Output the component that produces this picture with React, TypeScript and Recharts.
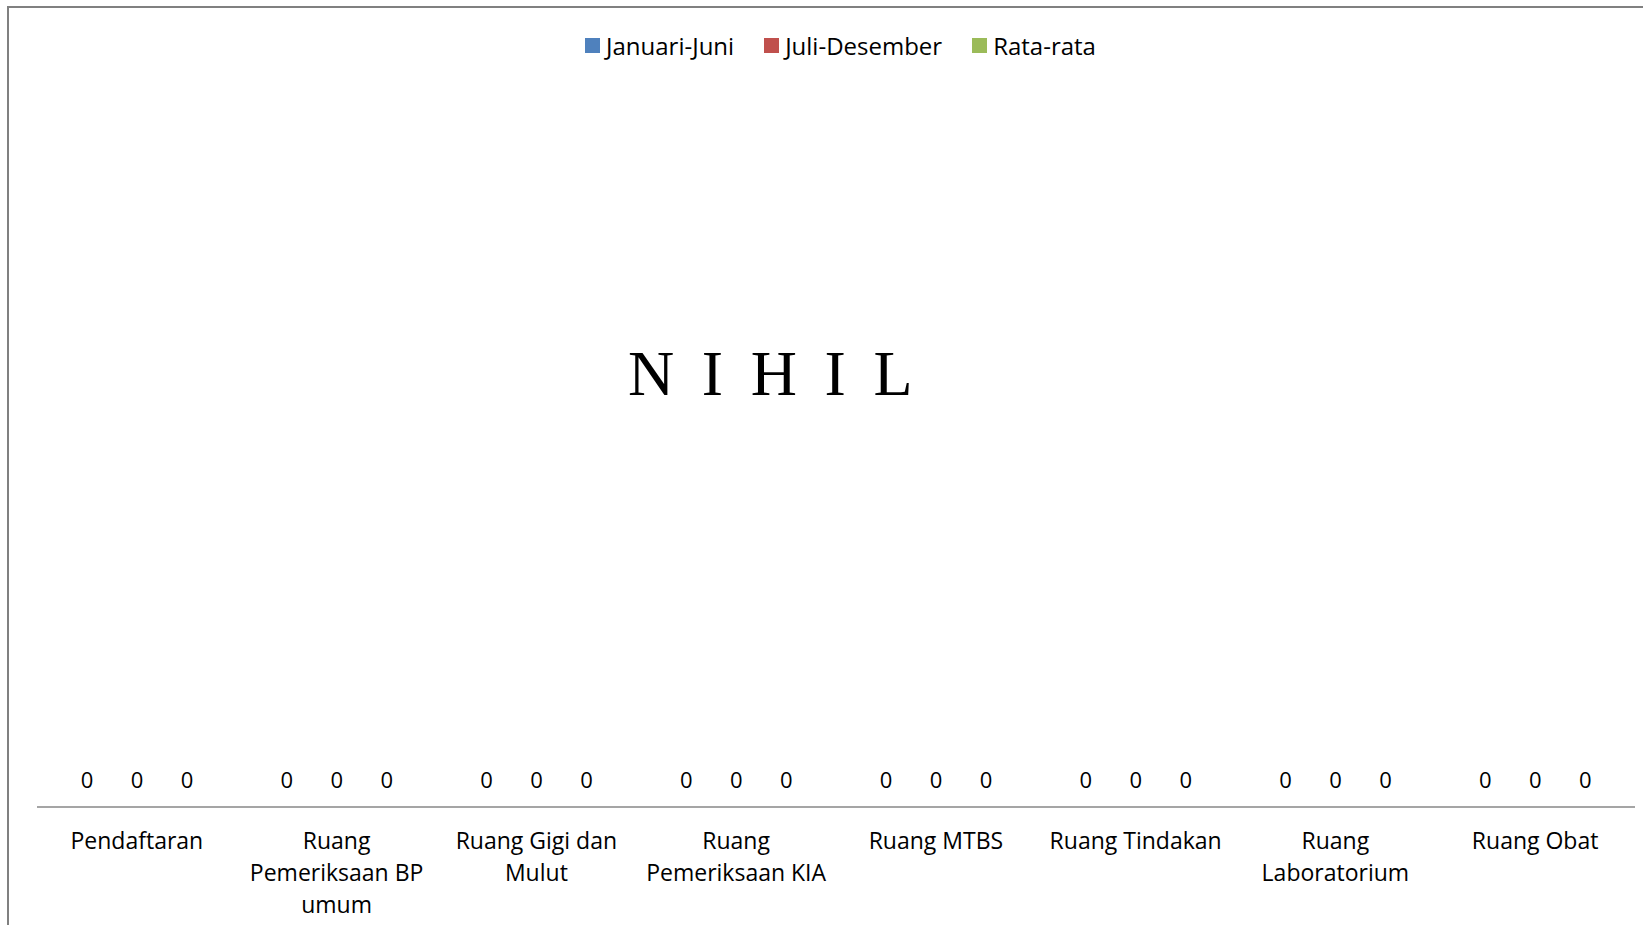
import { BarChart, Bar, XAxis, YAxis, Legend } from "recharts";

const categories = [
  "Pendaftaran",
  "Ruang Pemeriksaan BP umum",
  "Ruang Gigi dan Mulut",
  "Ruang Pemeriksaan KIA",
  "Ruang MTBS",
  "Ruang Tindakan",
  "Ruang Laboratorium",
  "Ruang Obat",
];

const januariJuni = [0, 0, 0, 0, 0, 0, 0, 0];
const juliDesember = [0, 0, 0, 0, 0, 0, 0, 0];
const rataRata = [0, 0, 0, 0, 0, 0, 0, 0];

const seriesKeys = ["januariJuni", "juliDesember", "rataRata"];
const seriesNames = ["Januari-Juni", "Juli-Desember", "Rata-rata"];
const seriesColors = ["#4F81BD", "#C0504D", "#9BBB59"];

const data = categories.map((name, i) => ({
  name,
  januariJuni: januariJuni[i],
  juliDesember: juliDesember[i],
  rataRata: rataRata[i],
}));

const FONT = "'Open Sans', sans-serif";

// word wrap like Excel does, measured with canvas
const measureCtx = document.createElement("canvas").getContext("2d");
function wrapWords(text: string, maxWidth: number, font: string) {
  if (!measureCtx) return [text];
  measureCtx.font = font;
  const lines: string[] = [];
  let cur = "";
  for (const w of text.split(" ")) {
    const next = cur ? cur + " " + w : w;
    if (cur && measureCtx.measureText(next).width > maxWidth) {
      lines.push(cur);
      cur = w;
    } else {
      cur = next;
    }
  }
  if (cur) lines.push(cur);
  return lines;
}

function CategoryTick(props: any) {
  const { x, y, payload } = props;
  const lines = wrapWords(payload.value, 196, "23px 'Open Sans'");
  return (
    <text x={x} y={y + 42} textAnchor="middle" fontFamily={FONT} fontSize={23} fill="#000">
      {lines.map((l, i) => (
        <tspan key={i} x={x} dy={i === 0 ? 0 : 32}>
          {l}
        </tspan>
      ))}
    </text>
  );
}

// value label above each bar (bars are zero height here)
function renderValueLabel(props: any) {
  const { x, y, width, value } = props;
  return (
    <text
      x={Number(x) + Number(width) / 2}
      y={Number(y) - 19}
      textAnchor="middle"
      fontFamily={FONT}
      fontSize={22}
      fill="#000"
    >
      {String(value ?? 0)}
    </text>
  );
}

function LegendContent() {
  return (
    <div
      style={{
        display: "flex",
        justifyContent: "center",
        gap: 30,
        paddingLeft: 9,
        fontFamily: FONT,
        fontSize: 24,
        color: "#000",
      }}
    >
      {seriesNames.map((n, i) => (
        <div key={n} style={{ display: "flex", alignItems: "center", height: 24 }}>
          <span
            style={{
              width: 15,
              height: 15,
              background: seriesColors[i],
              marginRight: 6,
              display: "inline-block",
            }}
          />
          <span>{n}</span>
        </div>
      ))}
    </div>
  );
}

export default function App() {
  return (
    <div
      style={{
        position: "absolute",
        left: 0,
        top: 0,
        width: 1643,
        height: 925,
        overflow: "hidden",
      }}
    >
      <div
        style={{
          position: "absolute",
          left: 7,
          top: 6,
          width: 1700,
          height: 1000,
          border: "2px solid #808080",
          boxSizing: "border-box",
        }}
      />
      <BarChart
        width={1643}
        height={925}
        data={data}
        margin={{ top: 70, right: 8, bottom: 0, left: 37 }}
        barSize={40}
        barGap={10}
      >
        <XAxis
          dataKey="name"
          interval={0}
          tickSize={0}
          tickMargin={0}
          height={118}
          axisLine={{ stroke: "#878787", strokeWidth: 1.5 }}
          tick={<CategoryTick />}
        />
        <YAxis hide domain={[0, 10]} />
        <Legend verticalAlign="top" content={<LegendContent />} wrapperStyle={{ top: 33 }} />
        {seriesKeys.map((k, i) => (
          <Bar
            key={k}
            dataKey={k}
            name={seriesNames[i]}
            fill={seriesColors[i]}
            isAnimationActive={false}
            minPointSize={0.001}
            label={renderValueLabel}
          />
        ))}
      </BarChart>
      <div
        style={{
          position: "absolute",
          left: 628,
          top: 342,
          fontFamily: "'Liberation Serif', serif",
          fontSize: 64,
          lineHeight: "64px",
          letterSpacing: 5.8,
          whiteSpace: "pre",
          color: "#000",
        }}
      >
        N I H I L
      </div>
    </div>
  );
}
